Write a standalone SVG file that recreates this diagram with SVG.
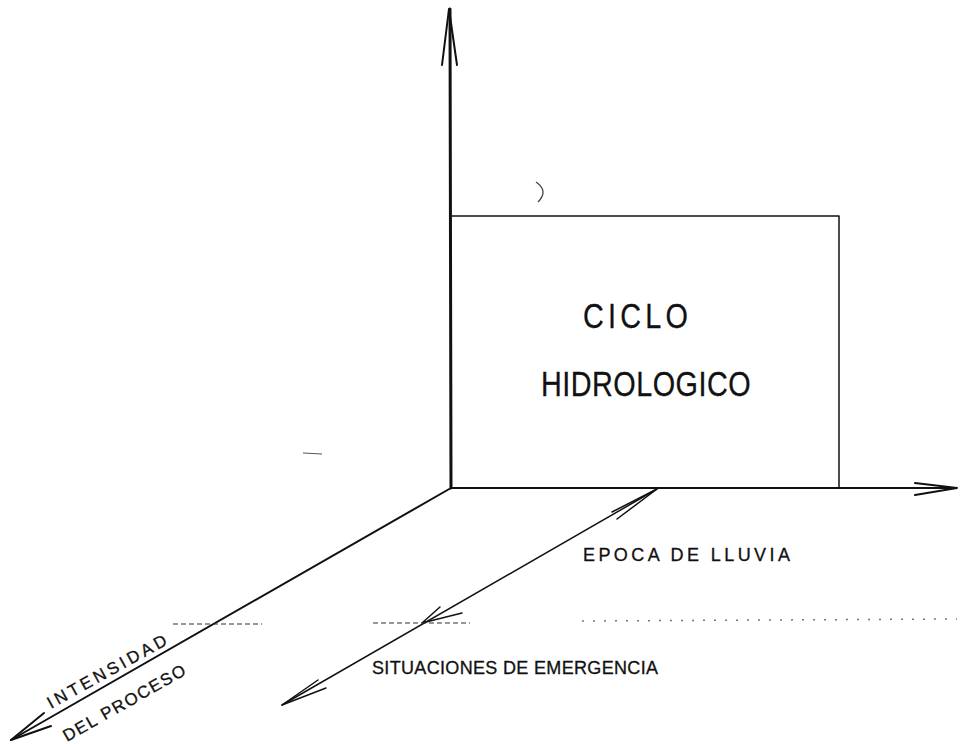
<svg xmlns="http://www.w3.org/2000/svg" width="960" height="744" viewBox="0 0 960 744">
<style>
.ax{stroke:#111;fill:none;stroke-linecap:round;stroke-linejoin:round}
.thick{stroke-width:3}
.mid{stroke-width:2}
.thin{stroke-width:1.5}
.dash{stroke:#333;stroke-width:1.2;stroke-dasharray:5 3;fill:none}
.dots{stroke:#777;stroke-width:1.5;stroke-dasharray:2 9;fill:none}
.t{font-family:"Liberation Sans","DejaVu Sans",sans-serif;fill:#111;stroke:#111;stroke-width:0.3}
.big{font-size:36px}
.sm{font-size:18px}
.rot{font-size:17px}
</style>
<rect width="960" height="744" fill="#fff"/>
<g id="connectors">
  <!-- vertical axis -->
  <path class="ax thick" d="M451,488 L450,9"/>
  <path class="ax mid" d="M442,65 L449,9 L457,65"/>
  <!-- horizontal axis -->
  <path class="ax mid" d="M451,488 L955,488"/>
  <path class="ax mid" d="M915,483 L957,488 L915,495"/>
  <!-- main diagonal axis -->
  <path class="ax mid" d="M451,488 L11,740"/>
  <path class="ax mid" d="M44,713 L11,740 L51,726"/>
  <!-- second diagonal -->
  <path class="ax thin" d="M657,489 L282,705"/>
  <path class="ax thin" d="M612,512 L657,489 L617,519"/>
  <path class="ax thin" d="M440,607 L422,623 L462,613"/>
  <path class="ax thin" d="M318,680 L282,705 L326,688"/>
  <!-- dashed guides -->
  <path class="dash" d="M173,624 L262,624"/>
  <path class="dash" d="M373,623 L470,623"/>
  <path class="dots" d="M582,621 L957,619"/>
</g>
<g id="box-ciclo">
  <path class="ax thin" d="M451,216 L839,216 L839,488"/>
  <text class="t big" transform="translate(583,328) scale(0.8,1)" textLength="131" lengthAdjust="spacing">CICLO</text>
  <text class="t big" transform="translate(541,396) scale(0.8,1)" textLength="262" lengthAdjust="spacing">HIDROLOGICO</text>
</g>
<g id="label-epoca">
  <text class="t sm" x="583" y="561" textLength="207" lengthAdjust="spacing">EPOCA DE LLUVIA</text>
</g>
<g id="label-situaciones">
  <text class="t sm" x="372" y="674" textLength="286" lengthAdjust="spacing">SITUACIONES DE EMERGENCIA</text>
</g>
<g id="label-intensidad">
  <text class="t rot" transform="translate(51,709) rotate(-29)" textLength="134" lengthAdjust="spacing">INTENSIDAD</text>
  <text class="t rot" transform="translate(67,742) rotate(-29.5)" textLength="138" lengthAdjust="spacing">DEL PROCESO</text>
</g>
<g id="marks">
  <path d="M536,182 Q549,191 538,202" stroke="#444" stroke-width="1.3" fill="none"/>
  <path d="M303,453 L322,454" stroke="#555" stroke-width="1" fill="none"/>
</g>
</svg>
